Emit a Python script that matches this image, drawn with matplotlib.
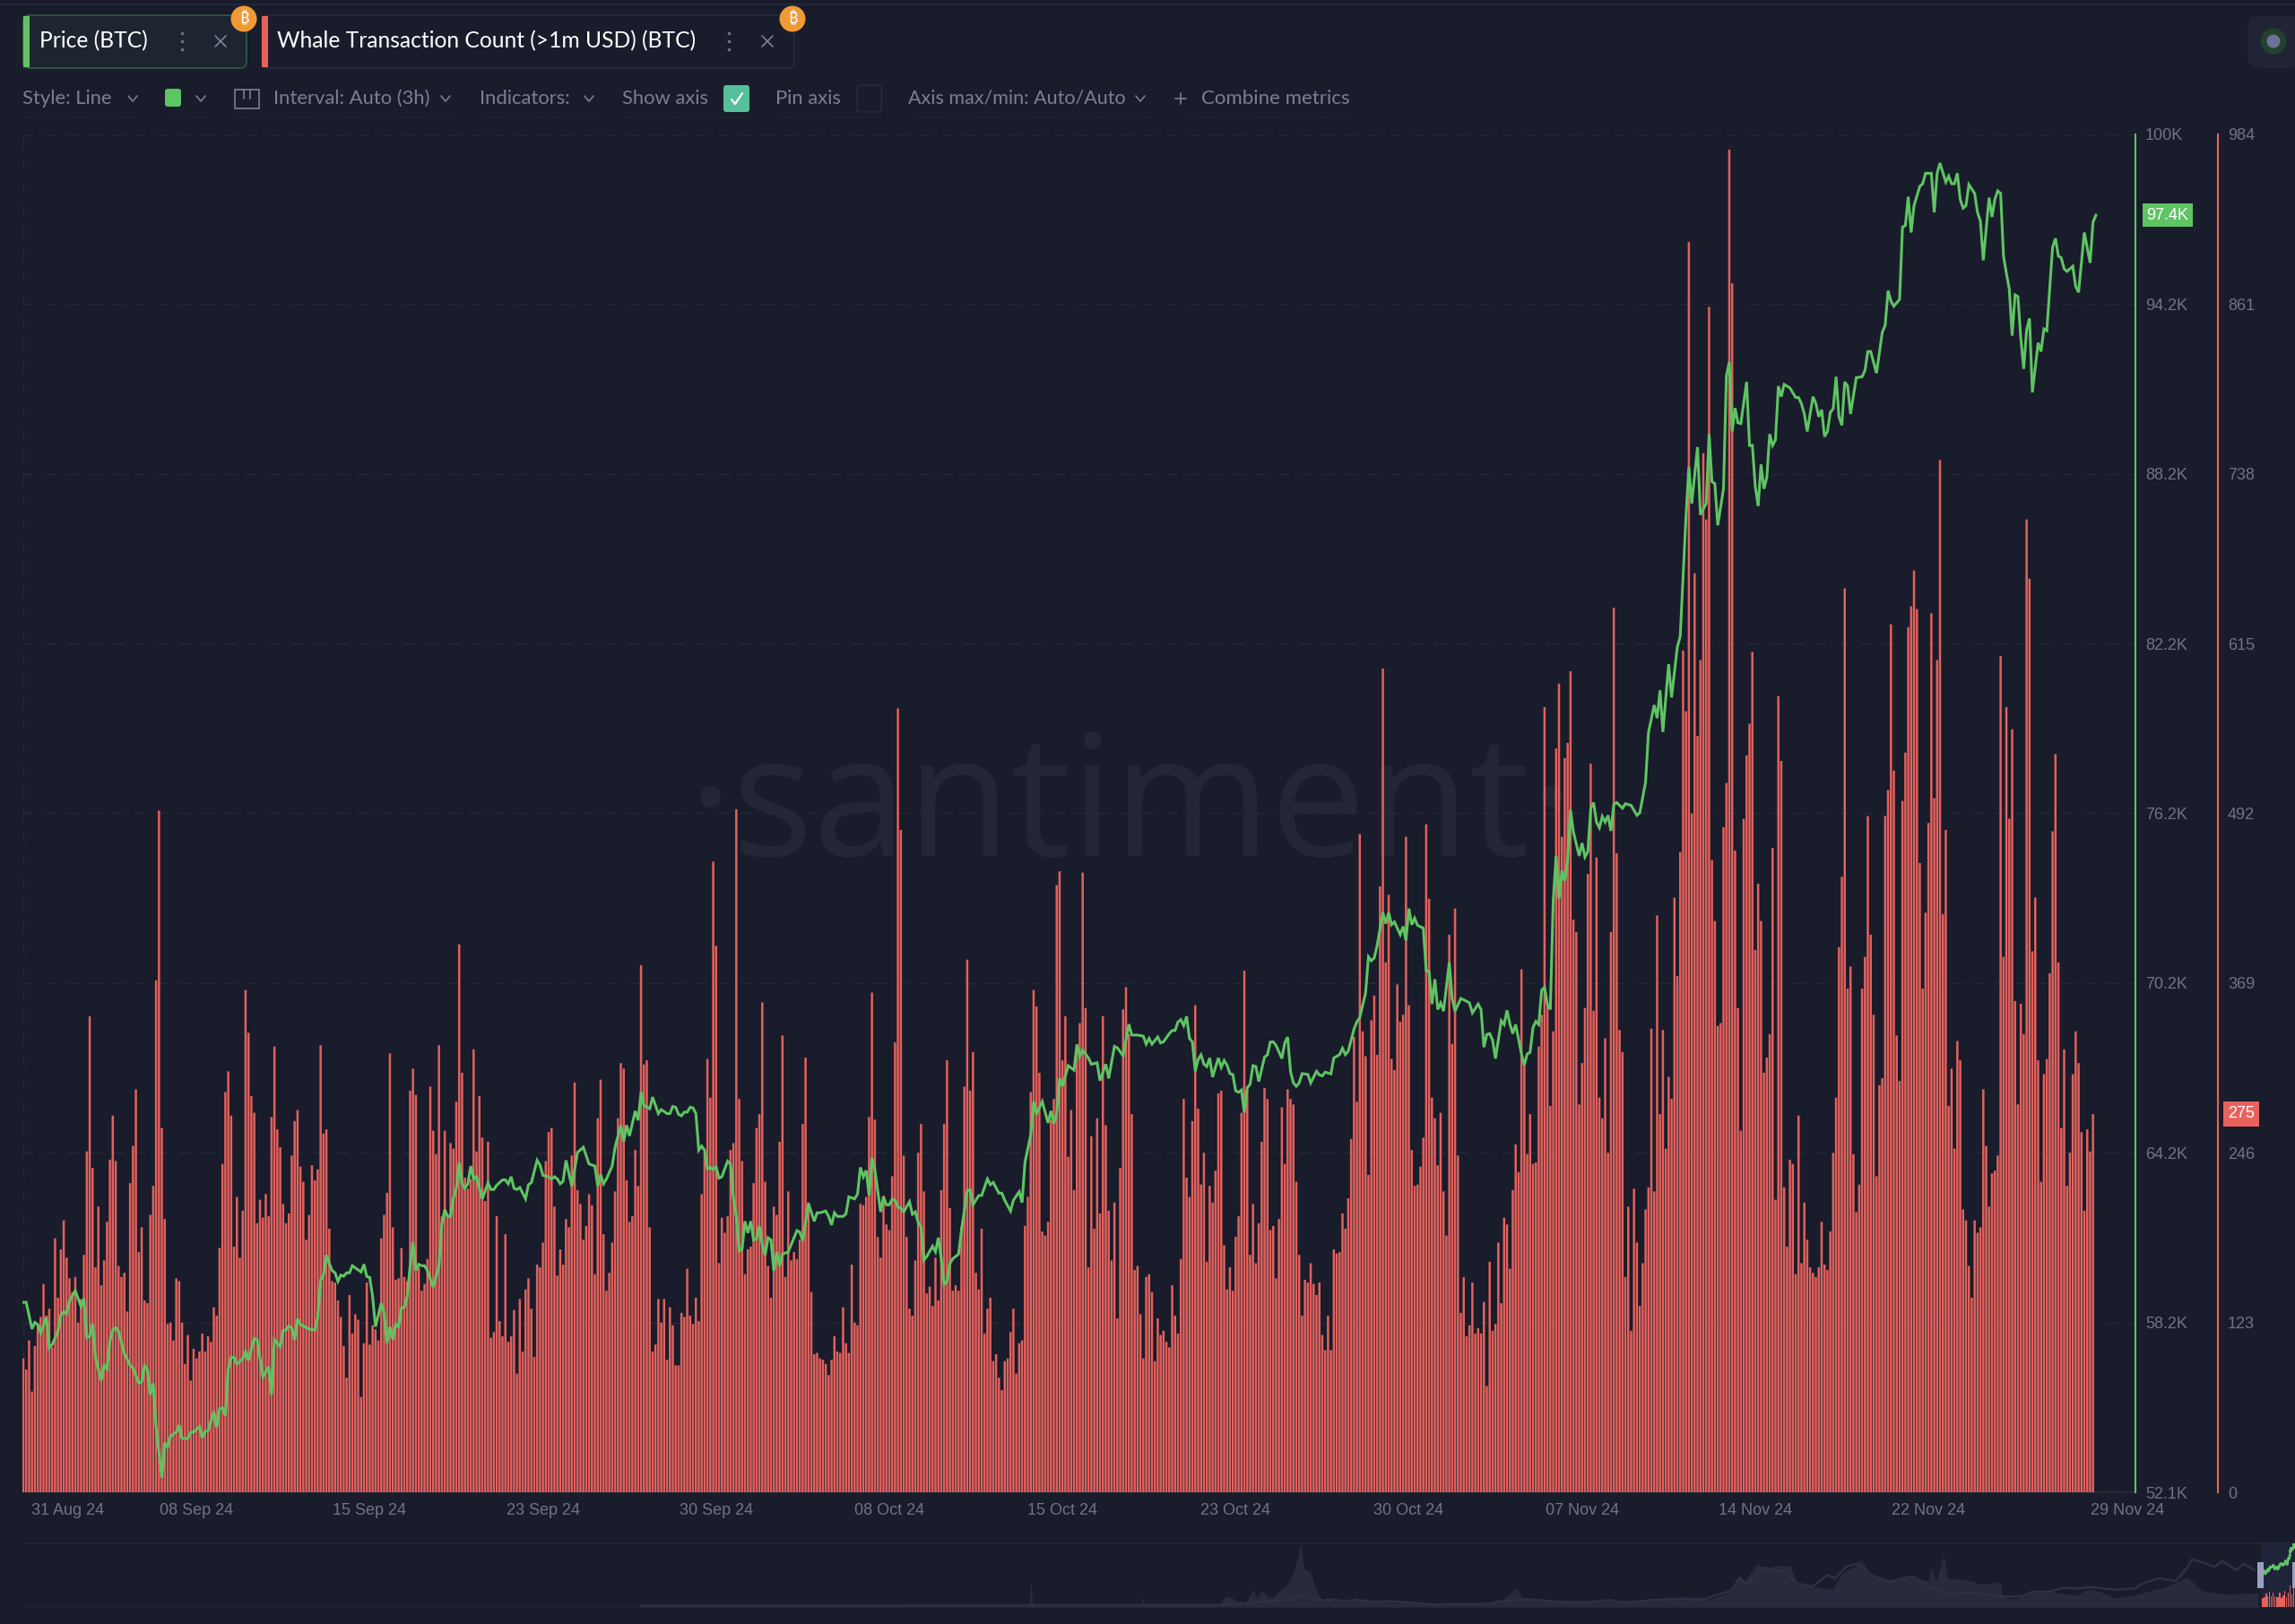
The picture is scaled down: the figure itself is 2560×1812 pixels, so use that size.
import matplotlib
matplotlib.use("Agg")
import matplotlib.pyplot as plt
import numpy as np
from matplotlib.patches import FancyBboxPatch, Rectangle, Circle

# ---- data ----
whale_count_sep = [97,89,110,73,106,122,127,151,128,133,105,184,141,176,197,170,155,145,156,123,140,172,247,345,235,163,207,150,168,196,241,273,240,164,156,159,131,224,251,292,174,192,139,137,201,222,371,494,264,198,122,123,110,155,153,123,93,114,81,104,97,102,115,102,113,109,134,128,177,238,290,305,273,178,214,170,204,364,333,287,275,195,212,199,216,200,272,323,263,250,209,195,202,244,269,277,236,225,183,201,237,226,234,324,260,263,191,153,152,139,127,106,83,143,115,129,125,69,108,152,107,121,118,110,184,201,217,318,192,154,155,177,156,153,291,307,288,163,146,151,169,294,262,245,324,200,262,200,253,249,283,397,304,228,
220,227,321,247,287,257,211,254,112,116,200,124,113,187,109,113,132,86,140,102,147,155,133,98,165,163,181,240,261,264,207,157,176,165,198,192,244,297,219,209,183,193,216,208,158,271,299,187,146,159,181,218,271,311,307,226,196,200,248,222,382,310,313,192]
whale_count_oct = [102,107,140,123,140,96,134,121,92,92,130,127,162,128,122,141,124,216,246,314,286,457,396,166,199,188,200,248,253,495,285,240,158,176,178,224,264,274,355,225,164,141,207,201,254,331,156,218,168,174,169,183,267,315,210,145,100,101,97,96,93,85,96,113,102,101,134,108,101,165,123,121,209,208,214,272,362,270,185,170,215,194,190,229,326,
568,480,244,185,133,128,168,246,267,218,144,149,135,170,139,219,267,313,206,146,150,146,193,294,386,291,319,159,147,191,115,133,141,95,100,83,74,95,97,116,133,86,108,110,193,214,290,364,352,304,189,186,196,270,285,440,450,313,345,243,277,219,324,340,449,351,163,258,191,271,202,345,266,204,168,210,126,235,350,366,332,274,161,164,129,97,156,158,145,95,126,114,117,109,105,150,128,115,169,285,228,214,269,353,278,223,246,167,222,210,233,289,291,179,147,163,146,185,200,275,378,292,172,209,166,195,254,293,285,190,193,155,198,279,238,292,285,281,225,172,128,154,152,166,151,143,152,114,103]
whale_count_nov = [128,103,176,173,174,202,191,213,256,330,283,477,334,316,230,342,360,317,439,597,384,433,314,306,368,341,346,475,353,248,222,223,236,257,484,430,286,271,237,275,218,186,404,325,423,244,130,156,113,121,152,115,119,115,138,77,167,117,122,181,137,199,194,162,219,252,232,379,310,245,274,238,239,323,346,569,354,280,334,539,586,475,532,543,595,415,406,281,311,351,448,528,349,460,286,271,329,246,406,641,463,335,319,156,207,117,220,181,135,166,205,221,336,218,418,274,335,249,301,285,431,374,464,610,566,906,
492,666,548,603,753,705,859,458,414,338,340,482,514,973,876,465,351,262,488,534,557,609,393,441,414,304,315,332,467,212,577,530,221,178,241,238,158,273,166,210,183,163,159,156,163,196,165,161,189,246,286,395,446,655,365,381,245,203,223,365,388,490,404,346,229,295,300,490,509,629,523,331,298,501,536,627,642,668,640,456,365,420,485,637,503,603,748,419,480,280,307,249,327,313,205,197,164,141,197,188,192,292,251,207,231,233,244,606,388,569,488,553,356,281,354,332,705,662,392,431,313,225,303,314,376,479,535,384,264,321,222,246,303,334,311,261,204,263,247,274]

price_step_a = [0,1,3,4,5,6,8,9,10,12,13,14,15,16,18,20,21,22,23,24,25,27,28,29,30,31,32,33,35,37,38,40,41,42,43,44,45,46,48,49,50,51,53,54,55,57,58,59,61,62,63,64,66,67,68,69,70,71,72,73,74,76,77,78,80,81,83,85,86,87,89,90,91,92,93,94,95,96,99,101,102,103,104,105,106,107,108,109,110,111,112,113,114,117,118,119,120,121,122,124,125,126,127,128,129,130,131,132,133,134,135,136,137,138,139,140,142,144,145,146,147,148,149,150,151,152,153]
price_k_a = [58.8,58.8,57.86,58.09,58.02,57.72,58.27,57.19,57.31,57.77,58.35,58.47,58.39,58.85,59.21,58.65,58.93,57.56,57.61,58.05,56.86,56.04,56.58,56.45,57.44,57.82,57.91,57.77,57.0,56.58,56.48,55.95,56.0,56.57,56.42,55.54,55.95,54.38,52.61,53.85,53.69,54.08,54.22,54.47,54.0,54.0,54.22,54.22,54.42,54.02,54.25,54.27,54.96,54.38,55.04,55.08,54.8,56.45,56.86,56.86,56.62,56.81,57.06,56.75,57.53,57.49,56.17,56.53,55.54,57.48,57.23,57.81,57.82,57.97,57.89,57.48,58.22,58.02,57.86,57.82,58.27,59.59,59.76,60.47,60.17,59.92,59.84,59.54,59.76,59.72,59.84,59.84,60.09,59.87,60.14,59.71,59.68,59.01,57.94,58.77,58.43,57.36,57.94,57.49,58.02,57.94,58.6,58.63,59.01,60.09,60.92,59.92,60.14,60.09,60.09,59.92,59.34,60.09,61.58,62.07,61.83,61.83,62.49,62.82,63.73,62.98,62.82]
price_step_b = [154,155,156,157,159,161,162,163,164,166,167,168,169,170,171,172,174,175,176,178,179,180,182,183,184,185,186,187,188,190,192,194,196,198,199,200,201,202,204,205,207,208,209,210,212,213,214,215,217,218,220,221,223,224,225,226,227,228,229,230,231,232,233,234,235,236,237,238,239,240,241,242,244,245,246,247,248,249,250,251,252,253,254,255,256,257,258,259,260,261,262,263,265,268,269,270,272,274,275,276,278,279,280,281,282,284,285,286,288,289,290,291,292,293,294,295,297,298,299,300,301,302]
price_k_b = [62.98,63.61,63.15,63.23,62.45,63.02,62.78,62.78,62.93,63.12,63.12,62.98,63.23,62.82,62.78,62.85,62.45,62.95,63.02,63.81,63.64,63.28,63.23,63.15,63.23,63.15,62.98,63.07,63.81,62.9,64.09,64.27,63.68,63.61,62.9,63.31,62.98,63.15,63.61,64.27,65.05,64.47,65.05,64.67,65.55,65.22,66.21,65.75,65.63,66.04,65.46,65.6,65.46,65.46,65.71,65.68,65.43,65.38,65.51,65.51,65.68,65.66,65.46,64.17,64.31,64.17,63.51,63.56,63.48,63.58,63.18,63.23,63.78,63.68,62.49,61.83,60.62,60.67,61.66,61.25,61.66,61.0,61.03,61.49,60.83,60.47,61.08,61.0,59.92,60.58,60.09,60.5,60.58,61.33,61.28,60.97,62.29,61.66,61.96,61.96,62.02,61.83,61.53,61.96,61.83,61.83,61.92,62.52,62.45,62.62,63.56,63.23,63.45,62.57,63.89,63.48,61.99,62.52,62.24,62.24,62.44,62.4]
price_step_c = [303,304,305,307,308,309,310,311,312,313,315,316,317,318,319,320,321,322,324,325,327,328,329,331,332,334,335,336,338,339,340,342,343,345,346,347,349,350,351,353,355,356,357,358,359,360,362,364,365,366,367,369,370,372,373,375,376,378,379,381,383,384,386,388,389,390,391,393,394,395,397,398,399,400,401,402,403,404,405,406,407,408,409,410,411,412,414,415,416,417,418,419,420,421,422,423,424,425,426,427,428,430,431,432,433,434,436,437,438,439,440,441,442,443,445,446,448,449,450,451]
price_k_c = [62.16,62.12,61.99,62.35,61.91,61.99,61.63,61.46,60.29,60.42,60.78,60.58,61.08,60.34,59.43,59.54,60.17,60.34,60.5,61.33,62.74,62.77,62.24,62.57,62.57,63.15,62.95,63.03,62.65,62.65,62.4,62.02,62.4,62.7,62.32,63.73,64.72,65.88,65.46,65.88,65.13,65.55,65.1,65.46,66.7,66.42,67.15,66.99,67.9,67.48,67.7,67.42,67.2,67.25,66.62,67.2,66.7,67.83,67.78,67.5,68.61,68.23,68.23,68.19,67.91,68.11,67.91,68.16,67.95,67.99,68.28,68.39,68.39,68.69,68.77,68.56,68.89,68.11,67.99,66.95,67.37,67.53,67.2,67.12,67.42,66.75,67.42,67.09,67.33,67.17,66.87,66.84,66.26,66.21,66.29,65.5,66.37,66.49,67.15,67.12,66.59,67.45,67.53,67.98,67.99,67.86,67.4,67.95,68.16,66.95,66.54,66.42,66.54,66.87,66.84,66.54,66.95,66.82,66.79,66.92]
price_step_d = [453,454,456,457,458,459,461,462,463,465,466,467,468,469,471,472,473,474,475,477,478,479,480,481,482,483,485,486,487,488,489,490,491,492,494,495,496,498,500,501,502,504,505,506,507,508,509,510,512,513,514,515,516,517,519,520,521,522,523,524,525,526,527,528,529,530,531,532,533,534,535,536,537,539,540,541,542,543,544,545,546,547,548,549,550,551,552,554,555,557,559,560,562,563]
price_k_d = [66.86,67.42,67.54,67.76,67.54,67.66,68.44,68.7,68.85,69.71,70.99,70.85,70.95,71.38,72.55,72.16,72.55,72.12,72.22,71.77,72.06,71.57,72.69,72.12,72.35,72.1,72.0,70.5,70.46,69.32,70.2,69.13,69.36,69.07,70.79,69.52,69.07,69.52,69.42,69.36,69.01,69.32,69.13,67.8,68.25,68.28,68.05,67.4,68.73,68.6,69.1,68.62,68.28,68.6,67.56,67.17,67.56,67.62,68.5,68.71,68.6,69.81,69.91,69.32,69.13,72.94,74.55,73.04,74.02,73.67,74.41,76.17,75.39,74.55,75.0,74.51,74.7,76.23,76.43,75.74,75.54,75.94,75.74,75.98,75.43,76.37,76.43,76.23,76.39,76.33,75.98,76.07,77.15,78.9]
price_step_e = [565,566,567,568,570,571,573,574,576,577,578,580,581,583,584,585,586,587,589,590,591,592,593,594,595,597,598,599,600,601,602,603,604,605,606,607,608,609,610,612,614,615,616,617,618,620,621,622,623,624,625,626,627,628,629,630,631,632,633,635,637,638,639,640,642,644,645,646,647,648,650,651,652,653,654,655,657,658,659,661,662,663,664,666,667,668,669,670,671,672,673,674,676,677,678,679,681,682,683,684,685,686,687,688,689,690,691,692,693,694,695,696,698,699,700,701,703,704,705,706,707,708,710,711,712,714,716,717,718]
price_k_e = [79.87,79.41,80.39,78.92,81.31,80.14,81.92,82.29,86.52,88.27,86.98,88.97,86.58,86.98,89.43,87.75,87.68,86.21,87.5,91.49,91.97,89.52,90.35,89.83,89.8,91.27,89.03,89.03,87.59,86.89,88.36,87.5,87.9,89.43,89.03,89.22,91.12,90.75,91.18,91.06,90.72,90.72,90.5,90.14,89.52,90.75,90.5,90.04,90.29,89.34,89.52,90.2,90.32,91.45,90.04,89.74,91.27,91.12,90.14,91.42,91.45,91.67,92.34,92.34,91.58,93.02,93.26,94.49,94.12,93.94,94.18,96.73,96.79,97.8,96.54,97.49,98.17,98.26,98.63,98.63,97.25,98.63,98.99,98.32,98.53,98.26,98.26,98.63,97.71,97.4,97.49,98.23,97.92,97.25,96.94,95.56,97.77,97.09,97.71,98.01,97.92,95.71,95.1,94.55,92.9,94.34,94.28,92.8,91.73,93.1,93.51,90.9,92.65,92.34,93.14,93.08,96.02,96.33,95.71,95.65,95.26,95.17,95.35,94.64,94.43,96.54,95.47,96.9,97.15]

date_tick_labels = ["08 Sep 24","15 Sep 24","23 Sep 24","30 Sep 24","08 Oct 24","15 Oct 24","23 Oct 24","30 Oct 24","07 Nov 24","14 Nov 24","22 Nov 24"]
date_tick_steps = [60,120,180,240,300,360,420,480,540,600,660]
price_tick_labels = ["52.1K","58.2K","64.2K","70.2K","76.2K","82.2K","88.2K","94.2K","100K"]
count_tick_values = [0,123,246,369,492,615,738,861,984]
price_min, price_max = 52.1, 100.0
last_price_label, last_count = "97.4K", 275

# overview strip (whole history, relative height in percent)
overview_t = [715,807,808,1148,1150,1152,1273,1275,1277,1359,1368,1375,1381,1390,1398,1402,1408,1416,1422,1429,1435,1442,1448,1451,1455,1458,1462,1467,1474,1486,1506,1525,1531,1557,1600,1661,1677,1692,1698,1716,1753,1784,1808,1845,1876,1906,1925,1934,1940,1946,1960,1967,1983,1997,2004,2022,2044,2056,2071,2076,2084,2096,2108,2133,2151,2154,2160,2168,2173,2194,2212,2231,2234,2249,2267,2292,2316,2329,2341,2359,2384,2418,2440,2457,2482,2519]
overview_vol = [2,2,5,2,46,2,2,18,2,4,17,14,8,8,28,15,26,14,18,28,34,52,80,100,60,58,55,30,12,10,8,14,8,6,5,6,12,30,15,12,8,9,10,10,12,12,20,35,50,40,68,60,65,65,40,32,28,55,65,75,55,45,42,48,40,62,40,83,45,43,35,40,15,12,25,23,18,28,25,14,20,33,47,25,20,22]
overview_line_t = [715,1365,1442,1451,1467,1477,1486,1499,1512,1531,1550,1600,1661,1673,1704,1741,1765,1796,1811,1845,1876,1900,1918,1931,1940,1949,1967,1980,1992,2004,2022,2038,2047,2059,2071,2090,2108,2133,2151,2169,2194,2212,2237,2255,2267,2286,2301,2316,2335,2359,2381,2390,2408,2427,2439,2445,2457,2470,2479,2494,2503,2515]
overview_line = [2,3,12,19,12,10,12,9,11,8,9,4,5,9,12,8,7,11,7,11,13,12,20,25,45,37,62,58,55,37,32,50,45,63,68,48,40,48,32,20,23,20,16,17,24,24,30,29,31,27,29,37,45,41,60,75,70,63,72,58,68,58]

whale_count = whale_count_sep + whale_count_oct + whale_count_nov
price_step = price_step_a + price_step_b + price_step_c + price_step_d + price_step_e
price_k = price_k_a + price_k_b + price_k_c + price_k_d + price_k_e

# ---- styles ----
BG = "#191c2b"; GRID = "#262a3a"; MUTED = "#7b7f96"; TICK = "#6f7488"
GREEN = "#5fc463"; RED = "#e8625d"; FAINT = "#232636"; ORANGE = "#f09a35"
W, H = 2560, 1812
plt.rcParams["font.family"] = ["Liberation Sans", "DejaVu Sans"]
fig = plt.figure(figsize=(W/100, H/100), dpi=100, facecolor=BG)

# page layer in pixel coordinates
ui = fig.add_axes([0, 0, 1, 1], zorder=0)
ui.set_xlim(0, W); ui.set_ylim(H, 0); ui.axis("off")

def seg(xs, ys, c=MUTED, lw=1.2):
    ui.plot(xs, ys, color=c, lw=lw, solid_capstyle="round", zorder=6, scalex=False, scaley=False)
def chevron(x, y, c=MUTED):
    seg([x-5, x, x+5], [y-3, y+3, y-3], c)
def cross(x, y, c="#7f8398"):
    seg([x-6, x+6], [y-6, y+6], c); seg([x-6, x+6], [y+6, y-6], c)
def dots(x, y, c="#6d7186"):
    ui.scatter([x, x, x], [y-9, y, y+9], s=7, color=c, lw=0, zorder=6)
def rbox(x0, y0, x1, y1, r, fc, ec="none", lw=1.2, z=2):
    p = FancyBboxPatch((x0+r, y0+r), x1-x0-2*r, y1-y0-2*r, boxstyle=f"round,pad={r}",
                       fc=fc, ec=ec, lw=lw, zorder=z)
    ui.add_patch(p)
def label(x, y, s, c=MUTED, size=15.8, **kw):
    ui.text(x, y, s, color=c, fontsize=size, family=["Lato", "DejaVu Sans"], va="center",
            ha=kw.pop("ha", "left"), zorder=6, **kw)
def badge(x, y):
    ui.add_patch(Circle((x, y), 14.5, fc=ORANGE, ec="none", zorder=7))
    ui.text(x, y, "\u20bf", color="white", fontsize=13, fontweight="bold", ha="center", va="center",
            family=["Noto Sans", "Inter", "DejaVu Sans"], zorder=8)

seg([0, W], [5, 5], "#232636", 1.5)
# tabs
rbox(26, 17, 275, 76, 7, "#1c2530", "#2f5d40")
ui.add_patch(Rectangle((26, 18), 7, 57, fc=GREEN, ec="none", zorder=3))
label(44, 46, "Price (BTC)", "white", 17.7); dots(203, 46); cross(246, 46); badge(272, 21)
rbox(292, 17, 886, 76, 7, BG, "#262a3b")
ui.add_patch(Rectangle((292, 18), 7, 57, fc=RED, ec="none", zorder=3))
label(309, 46, "Whale Transaction Count (>1m USD) (BTC)", "white", 17.7); dots(813, 46); cross(856, 46); badge(884, 21)

# option row
ry = 110
label(25, ry, "Style: Line"); chevron(148, ry)
rbox(184, 99, 202, 119, 3, GREEN); chevron(224, ry)
ui.add_patch(Rectangle((262, 100), 27, 21, fc="none", ec=MUTED, lw=1.2))
seg([272, 272], [100, 110]); seg([279, 279], [100, 110])
label(305, ry, "Interval: Auto (3h)"); chevron(497, ry)
label(535, ry, "Indicators:"); chevron(657, ry)
label(694, ry, "Show axis")
rbox(807, 95, 836, 125, 3, "#56c09a")
seg([816, 820, 828], [111, 116, 104], "white", 1.6)
label(865, ry, "Pin axis")
rbox(956, 95, 983, 125, 3, BG, "#262a3b")
label(1013, ry, "Axis max/min: Auto/Auto", size=15.5); chevron(1272, ry)
seg([1311, 1323], [110, 110]); seg([1317, 1317], [104, 116])
label(1340, ry, "Combine metrics", size=16)
for a, b in [(25, 155), (184, 232), (262, 505), (535, 665), (694, 836), (865, 983), (1013, 1285), (1317, 1505)]:
    ui.plot([a, b], [130, 130], color="#272a3b", lw=1, ls=(0, (1.5, 1.5)))

# top-right button
rbox(2507, 18, 2570, 76, 14, "#202435")
ui.add_patch(Circle((2536, 46), 14.5, fc="#24402f", ec="none", zorder=3))
ui.add_patch(Circle((2536, 46), 7.5, fc="#6d7196", ec="none", zorder=4))

# watermark
ui.text(1262, 955, "\u00b7santiment\u00b7", color="#232636", fontsize=136, ha="center", va="baseline",
        family=["Open Sans", "DejaVu Sans"])

# ---- main chart ----
L, R, T, B = 25, 2382, 150, 1665
rect = [L/W, 1-B/H, (R-L)/W, (B-T)/H]
ax = fig.add_axes(rect, zorder=1); ax.patch.set_alpha(0)
n = np.arange(len(whale_count))
ax.bar(n, whale_count, width=0.78, color="#e2615c", lw=0, zorder=3, snap=False)
ax.set_xlim(-0.31, 731.7); ax.set_ylim(0, 984)
for s in ["top", "left"]:
    ax.spines[s].set_visible(False)
ax.spines["bottom"].set_color("#2b2e40"); ax.spines["bottom"].set_linewidth(1.2)
ax.spines["right"].set_position(("outward", 92*0.72))
ax.spines["right"].set_color(RED); ax.spines["right"].set_linewidth(1.5)
ax.set_yticks(count_tick_values)
ax.set_yticklabels([str(v) for v in count_tick_values])
ax.set_xticks([15.5] + date_tick_steps + [729])
ax.set_xticklabels(["31 Aug 24"] + date_tick_labels + ["29 Nov 24"])
ax.set_xticks([0] + date_tick_steps, minor=True)
ax.tick_params(axis="x", which="both", length=0, pad=8.5, labelsize=13, labelcolor=TICK)
ax.grid(True, axis="y", color=GRID, lw=1, ls=(0, (9, 9)), zorder=1)
ax.grid(True, axis="x", which="minor", color=GRID, lw=1, ls=(0, (9, 9)), zorder=1)
ax.set_axisbelow(True)

axp = ax.twinx(); axp.set_zorder(2); axp.patch.set_alpha(0)
ax.yaxis.tick_right()
ax.yaxis.set_label_position("right")
ax.tick_params(axis="y", length=0, pad=8, labelsize=13, labelcolor=TICK, left=False, labelleft=False, right=False, labelright=True)
axp.plot(price_step, price_k, color=GREEN, lw=2.2, solid_joinstyle="miter", zorder=5)
axp.set_ylim(price_min, price_max)
for s in ["top", "left", "bottom"]:
    axp.spines[s].set_visible(False)
axp.spines["right"].set_color(GREEN); axp.spines["right"].set_linewidth(1.5)
axp.set_yticks(np.linspace(price_min, price_max, len(price_tick_labels)))
axp.set_yticklabels(price_tick_labels)
axp.tick_params(axis="y", length=0, pad=8, labelsize=13, labelcolor=TICK)

# value tags on the scales
axp.annotate(last_price_label, xy=(1, price_k[-1]), xycoords=("axes fraction", "data"),
             xytext=(35 * 0.72 + 0.5, 0), textcoords="offset points", ha="center", va="center",
             color="white", fontsize=13, zorder=8,
             bbox=dict(boxstyle="square,pad=0.25", fc=GREEN, ec="none"))
ax.annotate(str(last_count), xy=(1, last_count), xycoords=("axes fraction", "data"),
            xytext=(118 * 0.72, -1), textcoords="offset points", ha="center", va="center",
            color="white", fontsize=13, zorder=8,
            bbox=dict(boxstyle="square,pad=0.28", fc=RED, ec="none"))

# ---- overview strip ----
mt, mb = 1722, 1793
ov = fig.add_axes([L/W, 1-mb/H, (W-L)/W, (mb-mt)/H], zorder=1)
ov.patch.set_alpha(0); ov.axis("off")
ov.set_xlim(L, W); ov.set_ylim(0, 100)
sel_start = 2522
ov.add_patch(Rectangle((sel_start, 0), W-sel_start, 100, fc="#20243a", ec="none", zorder=1))
ov.fill_between(overview_t, 0, overview_vol, color="#272b3d", lw=0, zorder=2)
ov.plot(overview_line_t, overview_line, color="#2c3145", lw=1.8, zorder=3)
sel_x = sel_start + 2 + np.arange(0, len(whale_count), 36) * (W - sel_start) / len(whale_count)
sel_h = np.array(whale_count[::36]) * 0.041 + 10
ov.bar(sel_x, sel_h, width=1.4, color=RED, lw=0, zorder=4)
sel_lx = sel_start + 2 + np.array(price_step) * (W - sel_start) / len(whale_count)
ov.plot(sel_lx, 58 + (np.array(price_k) - 58.8) * 1.05, color=GREEN, lw=1.6, zorder=5)
ov.add_patch(Rectangle((2518, 30), 7, 40, fc="#9aa0c2", ec="none", zorder=6))
ov.add_patch(Rectangle((2557, 30), 4, 40, fc="#9aa0c2", ec="none", zorder=6))
ui.plot([L, W], [mt, mt], color=FAINT, lw=1.2)
ui.plot([L, W], [mb, mb], color="#202333", lw=1.2)

fig.savefig("out.png", dpi=100, facecolor=BG)
